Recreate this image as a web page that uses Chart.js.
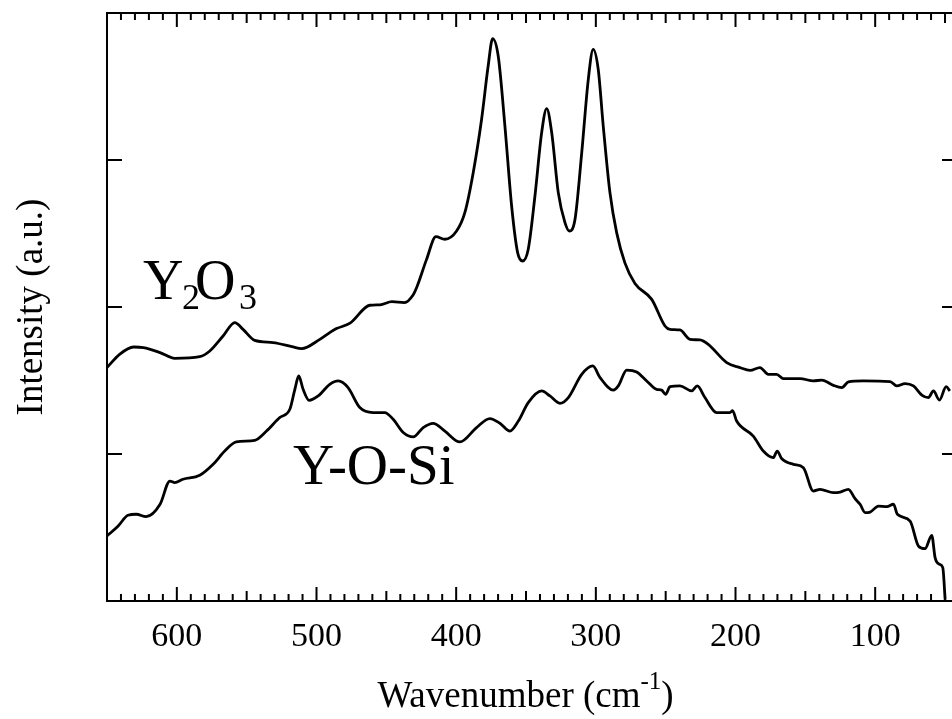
<!DOCTYPE html>
<html>
<head>
<meta charset="utf-8">
<script src="https://cdn.jsdelivr.net/npm/chart.js@4.4.1/dist/chart.umd.min.js"></script>
<style>
  html, body { margin: 0; padding: 0; background: #fff; }
  #wrap { width: 952px; height: 719px; }
</style>
</head>
<body>
<div id="wrap"><canvas id="ramanChart" width="952" height="719"></canvas></div>
<script>
// Y2O3 spectrum (wavenumber cm-1, intensity a.u.)
const waveY2O3 = [650, 641, 631, 624, 612, 601.5, 583.6, 576.4, 566.9, 558.5, 552.6, 544.2, 531.1, 516.8, 510.7,
  497.6, 490.5, 485.7, 476, 461.8, 454.6, 446, 437, 431, 428, 421.2, 414.5, 408.1, 399.7, 393.8, 387.8, 381.8,
  377.1, 373.9, 369.9, 365.1, 360.3, 356, 352.4, 348.4, 343.6, 338.8, 335.2, 331.6, 326.9, 322.1, 319, 314.9,
  310.1, 305.4, 301.9, 298.3, 294.7, 289.9, 285.1, 279.2, 272, 260, 250.5, 246.9, 239.8, 232.6, 225.4, 219.5,
  206.3, 196.8, 189.6, 182.5, 176.5, 170.5, 165.7, 153.8, 144.3, 138.2, 129.9, 123.9, 119.2, 108.4, 89.3, 84.5,
  78.6, 72.6, 66.6, 61.9, 58.3, 54, 49.2, 46.5];
const intY2O3 = [1.588, 1.678, 1.728, 1.724, 1.690, 1.651, 1.662, 1.701, 1.803, 1.894, 1.848, 1.773, 1.758, 1.728, 1.717,
  1.780, 1.826, 1.853, 1.890, 2.012, 2.015, 2.036, 2.030, 2.080, 2.140, 2.324, 2.479, 2.461, 2.517, 2.642, 2.914, 3.277,
  3.639, 3.826, 3.707, 3.231, 2.687, 2.370, 2.313, 2.393, 2.755, 3.186, 3.350, 3.186, 2.778, 2.574, 2.517, 2.597,
  3.050, 3.549, 3.753, 3.617, 3.231, 2.778, 2.506, 2.300, 2.160, 2.052, 1.871, 1.848, 1.844, 1.780, 1.776, 1.746,
  1.622, 1.588, 1.569, 1.588, 1.542, 1.542, 1.513, 1.513, 1.497, 1.503, 1.467, 1.452, 1.490, 1.497, 1.493, 1.463,
  1.479, 1.463, 1.401, 1.384, 1.429, 1.367, 1.458, 1.429];

// Y-O-Si spectrum
const waveYOSi = [650, 642, 635, 629, 622, 612, 605, 601.5, 595.6, 583.6, 574, 565.7, 557.4, 544.2, 535.8, 526.3,
  519.1, 515.5, 512.7, 509.6, 505.3, 498.8, 490.5, 484.5, 477.4, 469, 459.5, 451.1, 445.1, 437.9, 430.8, 423.6,
  416.5, 408.1, 397.4, 385.4, 375.9, 368.7, 361.5, 355.5, 348.4, 338.8, 332.9, 325.7, 319.7, 310.1, 302.2, 297,
  287.5, 283.9, 277.9, 270.8, 263.6, 256.5, 252.9, 250, 246.9, 239.8, 231.4, 227.4, 221.9, 213.5, 204, 202.1,
  199.2, 187.3, 180.1, 173, 170.1, 167, 158.6, 151.4, 144.3, 139.5, 129.9, 125.1, 119.2, 114.4, 110.8, 107.2,
  103.6, 97.7, 91.7, 86.9, 84.1, 75, 69, 64.3, 59.5, 57.1, 54, 51.6, 49.9];
const intYOSi = [0.442, 0.510, 0.583, 0.590, 0.574, 0.658, 0.816, 0.805, 0.828, 0.855, 0.930, 1.020, 1.082, 1.093, 1.156, 1.248,
  1.304, 1.440, 1.531, 1.440, 1.365, 1.395, 1.474, 1.497, 1.452, 1.316, 1.282, 1.282, 1.236, 1.146, 1.116, 1.180,
  1.209, 1.156, 1.082, 1.180, 1.241, 1.209, 1.156, 1.224, 1.350, 1.429, 1.395, 1.345, 1.384, 1.542, 1.599, 1.520,
  1.435, 1.463, 1.571, 1.558, 1.497, 1.440, 1.435, 1.406, 1.458, 1.463, 1.429, 1.463, 1.384, 1.282, 1.282, 1.295,
  1.224, 1.122, 1.020, 0.975, 1.020, 0.969, 0.930, 0.907, 0.748, 0.760, 0.737, 0.741, 0.760, 0.696, 0.658, 0.601,
  0.605, 0.646, 0.642, 0.658, 0.590, 0.544, 0.374, 0.356, 0.447, 0.295, 0.250, 0.227, 0.010];

const xTickLabels = [100, 200, 300, 400, 500, 600];
const yTickValues = [1, 2, 3];

const serif = "'Liberation Serif', 'Times New Roman', serif";

function toPoints(xs, ys) {
    return xs.map((v, i) => ({ x: v, y: ys[i] }));
}

// frame, inward ticks, tick labels, axis titles and curve labels
const decorations = {
    id: 'decorations',
    afterDraw(chart) {
        const { ctx, chartArea: a, scales: { x, y } } = chart;
        ctx.save();
        ctx.strokeStyle = '#000';
        ctx.lineWidth = 2;
        ctx.beginPath();
        ctx.moveTo(a.left, a.top); ctx.lineTo(a.right + 2, a.top);
        ctx.moveTo(a.left, a.top - 1); ctx.lineTo(a.left, a.bottom + 1);
        ctx.moveTo(a.left, a.bottom); ctx.lineTo(a.right, a.bottom);
        for (let v = 50; v <= 650; v += 10) {
            const px = x.getPixelForValue(v);
            const len = v % 100 === 0 ? 14 : (v % 50 === 0 ? 10 : 7);
            ctx.moveTo(px, a.top); ctx.lineTo(px, a.top + len);
            ctx.moveTo(px, a.bottom); ctx.lineTo(px, a.bottom - len);
        }
        yTickValues.forEach(v => {
            const py = y.getPixelForValue(v);
            ctx.moveTo(a.left, py); ctx.lineTo(a.left + 15, py);
            ctx.moveTo(a.right, py); ctx.lineTo(a.right - 10, py);
        });
        ctx.stroke();

        ctx.fillStyle = '#000';

        // x tick labels
        ctx.font = '34px ' + serif;
        ctx.textAlign = 'center';
        ctx.textBaseline = 'alphabetic';
        xTickLabels.forEach(v => {
            ctx.fillText(String(v), x.getPixelForValue(v), a.bottom + 45);
        });

        ctx.textAlign = 'left';

        // x title with superscript
        const mainFont = '37px ' + serif;
        const supFont = '25px ' + serif;
        ctx.font = mainFont;
        const w1 = ctx.measureText('Wavenumber (cm').width;
        const w3 = ctx.measureText(')').width;
        ctx.font = supFont;
        const w2 = ctx.measureText('-1').width;
        const tx = (a.left + a.right) / 2 - (w1 + w2 + w3) / 2 - 4;
        const ty = 707;
        ctx.font = mainFont;
        ctx.fillText('Wavenumber (cm', tx, ty);
        ctx.font = supFont;
        ctx.fillText('-1', tx + w1, ty - 18);
        ctx.font = mainFont;
        ctx.fillText(')', tx + w1 + w2, ty);

        // y title
        ctx.save();
        ctx.translate(42, (a.top + a.bottom) / 2);
        ctx.rotate(-Math.PI / 2);
        ctx.textAlign = 'center';
        ctx.font = mainFont;
        ctx.fillText('Intensity (a.u.)', 0, 0);
        ctx.restore();

        // curve labels
        const ax = x.getPixelForValue(624.2), ay = y.getPixelForValue(2.052);
        ctx.font = '56px ' + serif;
        ctx.fillText('Y', ax, ay);
        ctx.fillText('O', ax + 52, ay);
        ctx.font = '36px ' + serif;
        ctx.fillText('2', ax + 39, ay + 10);
        ctx.fillText('3', ax + 96, ay + 10);

        const bx = x.getPixelForValue(516.8), by = y.getPixelForValue(0.794);
        ctx.font = '57px ' + serif;
        ctx.fillText('Y-O-Si', bx, by);
        ctx.restore();
    }
};

document.addEventListener('DOMContentLoaded', function() {
    const canvas = document.getElementById('ramanChart');
    const ctx = canvas.getContext('2d');

    new Chart(ctx, {
        type: 'line',
        data: {
            datasets: [{
                label: 'Y2O3',
                data: toPoints(waveY2O3, intY2O3),
                borderColor: '#000',
                borderWidth: 2.8,
                pointRadius: 0,
                fill: false,
                cubicInterpolationMode: 'monotone'
            }, {
                label: 'Y-O-Si',
                data: toPoints(waveYOSi, intYOSi),
                borderColor: '#000',
                borderWidth: 2.8,
                pointRadius: 0,
                fill: false,
                cubicInterpolationMode: 'monotone'
            }]
        },
        options: {
            responsive: false,
            animation: false,
            maintainAspectRatio: false,
            layout: { padding: { left: 107, top: 13, right: 0, bottom: 118 } },
            plugins: {
                legend: { display: false },
                tooltip: { enabled: false }
            },
            scales: {
                x: {
                    type: 'linear',
                    display: false,
                    reverse: true,
                    min: 45,
                    max: 650
                },
                y: {
                    type: 'linear',
                    display: false,
                    min: 0,
                    max: 4
                }
            }
        },
        plugins: [decorations]
    });
});
</script>
</body>
</html>
